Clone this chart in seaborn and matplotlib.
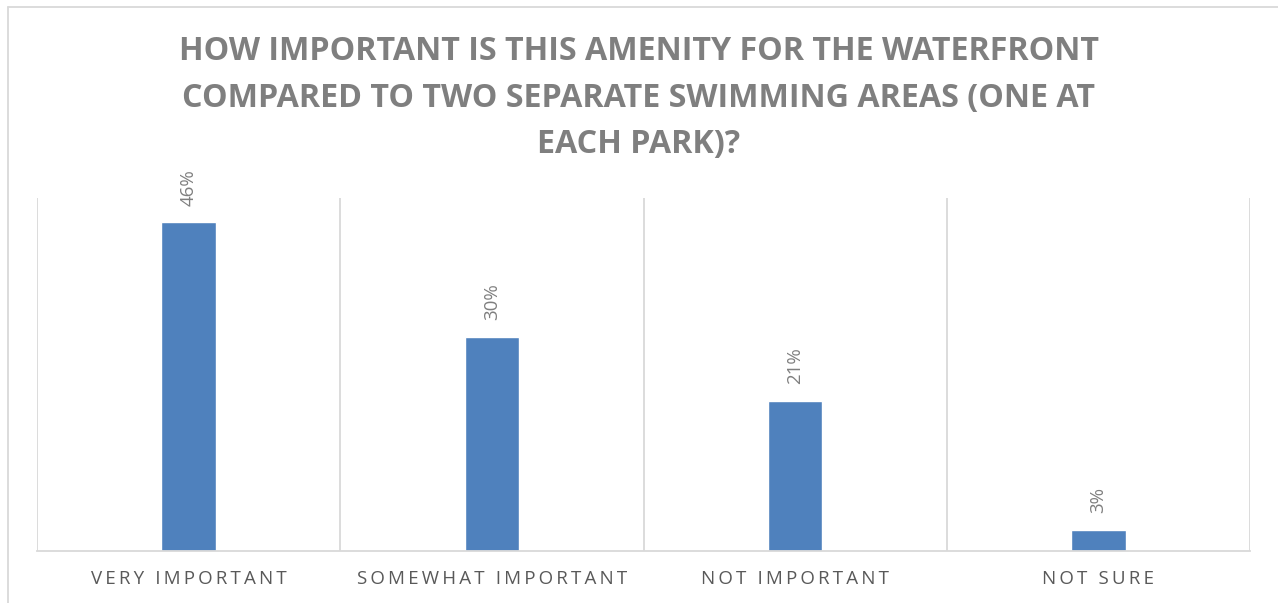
import matplotlib
matplotlib.use("Agg")
import matplotlib.pyplot as plt
import seaborn as sns
import pandas as pd
from matplotlib.lines import Line2D

categories = ["VERY IMPORTANT", "SOMEWHAT IMPORTANT", "NOT IMPORTANT", "NOT SURE"]
values = [46, 30, 21, 3]
value_labels = ["46%", "30%", "21%", "3%"]
title = ("HOW IMPORTANT IS THIS AMENITY FOR THE WATERFRONT\n"
         "COMPARED TO TWO SEPARATE SWIMMING AREAS (ONE AT\n"
         "EACH PARK)?")

sns.set_theme(style="white")
plt.rcParams['font.family'] = ['Open Sans', 'DejaVu Sans']

df = pd.DataFrame({"category": categories, "value": values})

fig = plt.figure(figsize=(12.78, 6.03), dpi=100)
ax = fig.add_axes([37 / 1278, 1 - 551 / 603, (1250 - 37) / 1278, (551 - 198) / 603])

sns.barplot(data=df, x="category", y="value", color="#4F81BD", width=0.18,
            saturation=1, ax=ax)

ax.set_xlim(-0.5, 3.5)
ax.set_ylim(0, 49.4)

# category separators
grid = "#D9D9D9"
for b in [-0.5, 0.5, 1.5, 2.5, 3.5]:
    ax.axvline(b, color=grid, lw=1.3, zorder=0)
for s in ["top", "right", "left"]:
    ax.spines[s].set_visible(False)
ax.spines["bottom"].set_color(grid)
ax.spines["bottom"].set_linewidth(1.3)

ax.set_yticks([])
ax.set_xlabel("")
ax.set_ylabel("")

# letter spaced tick labels
def spaced(t):
    return "\u2009".join(t)

ax.set_xticks(range(len(categories)))
ax.set_xticklabels([spaced(c) for c in categories], fontsize=13.5, color="#595959")
ax.tick_params(axis="x", length=0, pad=14)

for i, (v, lab) in enumerate(zip(values, value_labels)):
    ax.annotate(lab, (i, v), xytext=(0, 12), textcoords="offset points",
                rotation=90, ha="center", va="bottom", fontsize=13.5, color="#7F7F7F")

fig.text(0.5, 1 - 98 / 603, title, ha="center", va="center", fontsize=23.2,
         fontweight="bold", color="#7F7F7F", linespacing=1.56)

# outer chart frame
fig.add_artist(Line2D([8 / 1278, 8 / 1278], [0, 1 - 7 / 603], color=grid, lw=1.3,
                      transform=fig.transFigure))
fig.add_artist(Line2D([8 / 1278, 1], [1 - 7 / 603, 1 - 7 / 603], color=grid, lw=1.3,
                      transform=fig.transFigure))

fig.savefig("out.png", dpi=100, facecolor="white")
